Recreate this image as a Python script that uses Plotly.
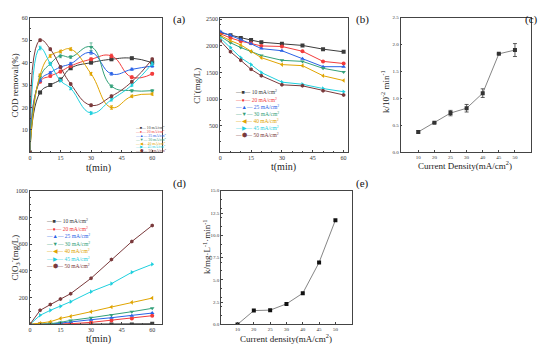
import plotly.graph_objects as go

t = [0, 5, 10, 15, 20, 30, 40, 50, 60]
labels = ["10 mA/cm<sup>2</sup>", "20 mA/cm<sup>2</sup>", "25 mA/cm<sup>2</sup>", "30 mA/cm<sup>2</sup>",
          "40 mA/cm<sup>2</sup>", "45 mA/cm<sup>2</sup>", "50 mA/cm<sup>2</sup>"]
colors = ["#3c3c3c", "#f23c3c", "#2b63e6", "#33a07a", "#e0a400", "#1fd0de", "#7a3a3c"]
symbols = ["square", "circle", "triangle-up", "triangle-down", "triangle-left", "triangle-right", "hexagon"]
glyphs = ["■", "●", "▲", "▼", "◀", "▶", "⬢"]

cod = [
    [0, 26.7, 30, 32.5, 37.5, 40, 41.5, 42, 40],
    [0, 31.5, 34, 36, 38.5, 41.5, 43, 33.5, 35],
    [0, 32, 35.5, 38, 39.5, 44.5, 35, 37, 38.5],
    [0, 33.5, 39.5, 43, 42.5, 47, 29.5, 27.5, 27.5],
    [0, 34.5, 43, 45, 46, 35, 20, 25, 26],
    [0, 46.5, 39.5, 32, 28.5, 17.5, 23.5, 30, 39.5],
    [0, 50, 46, 38, 30.5, 21, 25, 31.5, 41.5],
]
cod_err = [
    [0, 0.5, 0.5, 0.5, 0.5, 0.6, 0.6, 0.5, 0.5],
    [0, 0.5, 0.5, 0.6, 0.5, 0.6, 0.8, 0.6, 0.5],
    [0, 0.5, 0.5, 0.5, 0.6, 0.8, 0.6, 0.5, 0.6],
    [0, 0.6, 0.6, 0.8, 0.6, 1.8, 0.6, 0.5, 0.5],
    [0, 0.5, 0.6, 0.5, 0.6, 0.6, 0.8, 0.5, 0.5],
    [0, 0.8, 0.6, 0.5, 0.5, 0.6, 0.6, 0.6, 0.8],
    [0, 0.6, 0.6, 0.5, 0.5, 0.6, 0.6, 0.5, 0.6],
]
chloride = [
    [2250, 2200, 2150, 2110, 2070, 2040, 2010, 1940, 1890],
    [2230, 2150, 2090, 2050, 2000, 1990, 1900, 1710, 1670],
    [2270, 2200, 2120, 2040, 1950, 1910, 1760, 1610, 1610],
    [2180, 2060, 1970, 1890, 1820, 1730, 1710, 1580, 1510],
    [2200, 2100, 2020, 1900, 1780, 1650, 1630, 1440, 1350],
    [2150, 1970, 1780, 1650, 1500, 1320, 1280, 1200, 1140],
    [2100, 1890, 1730, 1560, 1440, 1270, 1250, 1160, 1080],
]
chlorate = [
    [0, 0, 0, 0, 0, 0, 0, 0, 5],
    [0, 0, 0, 3, 5, 15, 30, 45, 65],
    [0, 0, 2, 10, 20, 35, 50, 65, 85],
    [0, 0, 5, 15, 30, 50, 70, 95, 120],
    [0, 8, 20, 45, 60, 95, 130, 165, 197],
    [0, 68, 105, 135, 170, 245, 305, 390, 450],
    [0, 105, 148, 190, 230, 345, 485, 620, 740],
]
density = ["10", "20", "25", "30", "40", "45", "50"]
k_cl = [0.38, 0.55, 0.73, 0.82, 1.10, 1.83, 1.90]
k_cl_err = [0.02, 0.01, 0.05, 0.07, 0.08, 0.01, 0.12]
k_clo3 = [0.0, 1.55, 1.6, 2.3, 3.5, 6.95, 11.7]

FONT = "Liberation Serif"
fig = go.Figure()

for i in range(7):
    fig.add_trace(go.Scatter(x=t, y=cod[i], mode="lines+markers", line=dict(color=colors[i], width=1, shape="spline", smoothing=1.3),
                             marker=dict(symbol=symbols[i], size=4, color=colors[i]),
                             error_y=dict(array=cod_err[i], color=colors[i], thickness=0.7, width=1.5),
                             xaxis="x", yaxis="y", showlegend=False))
    fig.add_trace(go.Scatter(x=t, y=chloride[i], mode="lines+markers", line=dict(color=colors[i], width=1),
                             marker=dict(symbol=symbols[i], size=4, color=colors[i]),
                             xaxis="x2", yaxis="y2", showlegend=False))
    fig.add_trace(go.Scatter(x=t, y=chlorate[i], mode="lines+markers", line=dict(color=colors[i], width=1),
                             marker=dict(symbol=symbols[i], size=4, color=colors[i]),
                             xaxis="x4", yaxis="y4", showlegend=False))

fig.add_trace(go.Scatter(x=list(range(7)), y=k_cl, mode="lines+markers", line=dict(color="#666666", width=0.8),
                         marker=dict(symbol="square", size=4, color="#333333"),
                         error_y=dict(array=k_cl_err, color="#333333", thickness=0.8, width=2),
                         xaxis="x3", yaxis="y3", showlegend=False))
fig.add_trace(go.Scatter(x=list(range(7)), y=k_clo3, mode="lines+markers", line=dict(color="#666666", width=0.8),
                         marker=dict(symbol="square", size=4, color="#111111"),
                         xaxis="x5", yaxis="y5", showlegend=False))

W, H = 550, 350
def dx(a, b):
    return [a / W, b / W]
def dy(top, bot):
    return [1 - bot / H, 1 - top / H]

TICKF = dict(family=FONT, size=6, color="#333")
SMALLF = dict(family=FONT, size=5, color="#333")
ax_common = dict(showline=True, linecolor="#444444", linewidth=0.8, mirror=True, ticks="inside", ticklen=2,
                 tickcolor="#444444", showgrid=False, zeroline=False, tickfont=TICKF,
                 minor=dict(ticks="inside", ticklen=1, tickcolor="#444444"))

def tx(**kw):
    d = dict(ax_common); d.update(kw); return d

fig.update_layout(
    width=W, height=H, margin=dict(l=0, r=0, t=0, b=0), paper_bgcolor="white", plot_bgcolor="white",
    font=dict(family=FONT),
    xaxis=tx(domain=dx(28, 161), anchor="y", range=[0, 65], tickvals=[0, 15, 30, 45, 60]),
    yaxis=tx(domain=dy(15, 152), anchor="x", range=[0, 60], tickvals=[10, 20, 30, 40, 50, 60]),
    xaxis2=tx(domain=dx(219, 347), anchor="y2", range=[0, 62], tickvals=[0, 15, 30, 45, 60]),
    yaxis2=tx(domain=dy(15, 152), anchor="x2", range=[0, 2530], tickvals=[500, 1000, 1500, 2000, 2500]),
    xaxis3=tx(domain=dx(400, 531), anchor="y3", range=[-1.1, 7], tickvals=list(range(7)), ticktext=density,
              tickfont=SMALLF, minor=dict(ticks="")),
    yaxis3=tx(domain=dy(15, 152), anchor="x3", range=[0, 2.5], tickvals=[0, 0.5, 1.0, 1.5, 2.0, 2.5], tickformat=".1f",
              tickfont=SMALLF),
    xaxis4=tx(domain=dx(28, 161), anchor="y4", range=[0, 65], tickvals=[0, 15, 30, 45, 60]),
    yaxis4=tx(domain=dy(191, 327), anchor="x4", range=[0, 1000], tickvals=[200, 400, 600, 800, 1000]),
    xaxis5=tx(domain=dx(220, 351), anchor="y5", range=[-1, 7], tickvals=list(range(7)), ticktext=density,
              tickfont=SMALLF, minor=dict(ticks="")),
    yaxis5=tx(domain=dy(191, 327), anchor="x5", range=[0, 15], tickvals=[0, 2.5, 5, 7.5, 10, 12.5, 15], tickformat=".1f",
              tickfont=SMALLF),
)

ann = []
for txt, x, y in [("(a)", 170, 8), ("(b)", 362, 8), ("(c)", 540, 8), ("(d)", 170, 184), ("(e)", 362, 184)]:
    ann.append(dict(text=txt, x=x / W, y=1 - y / H, xref="paper", yref="paper", showarrow=False,
                    font=dict(family=FONT, size=11, color="#111")))

TITLEF = dict(family=FONT, size=9, color="#222")
TF = dict(family=FONT, size=10, color="#222")
for txt, x, y, f in [("t(min)", 97, 168, TF), ("t(min)", 283, 167, TF), ("Current Density(mA/cm<sup>2</sup>)", 465, 165, TITLEF),
                     ("t(min)", 97, 342, TF), ("Current density(mA/cm<sup>2</sup>)", 285, 341, TITLEF)]:
    ann.append(dict(text=txt, x=x / W, y=1 - y / H, xref="paper", yref="paper", showarrow=False,
                    xanchor="center", yanchor="middle", font=f))
for txt, x, y in [("COD removal(%)", 13, 84), ("Cl<sup>-</sup>(mg/L)", 194, 84), ("k/10<sup>-2</sup> min<sup>-1</sup>", 385, 90),
                  ("ClO<sub>3</sub><sup>-</sup>(mg/L)", 13, 259), ("k/mg·L<sup>-1</sup>·min<sup>-1</sup>", 205, 248)]:
    ann.append(dict(text=txt, x=x / W, y=1 - y / H, xref="paper", yref="paper", showarrow=False, textangle=-90,
                    xanchor="center", yanchor="middle", font=TITLEF))

def legend(x0, y0, step, size):
    for i in range(7):
        ann.append(dict(text="—" + glyphs[i] + "— " + labels[i], x=x0 / W, y=1 - (y0 + i * step) / H,
                        xref="paper", yref="paper", xanchor="left", yanchor="middle", showarrow=False,
                        font=dict(family=FONT, size=size, color=colors[i])))

legend(131, 127, 3.9, 3.8)
legend(232, 91, 7.2, 5.5)
legend(42, 222, 7.6, 5.5)
fig.update_layout(annotations=ann)

fig.write_html("out.html", config={"displayModeBar": False},
               post_script="document.body.style.margin='0px';document.body.style.padding='0px';")
